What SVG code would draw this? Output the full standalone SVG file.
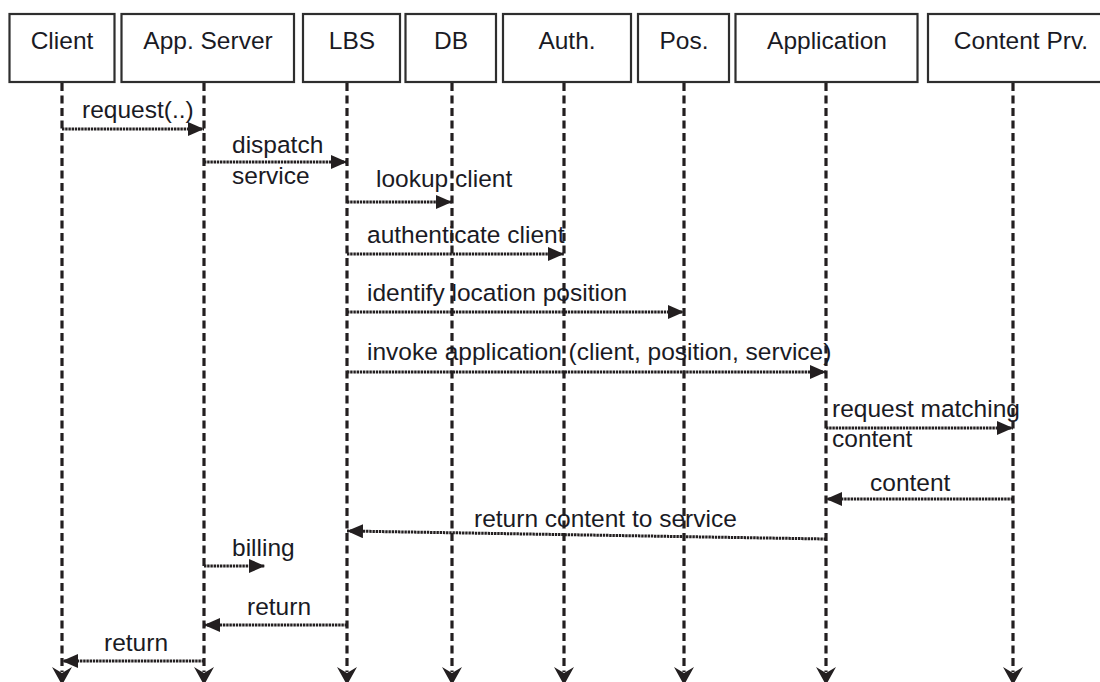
<svg xmlns="http://www.w3.org/2000/svg" width="1100" height="682" viewBox="0 0 1100 682">
  <style>
    .box { fill: #ffffff; stroke: #2e2e2e; stroke-width: 2.2; }
    .label { font-family: "Liberation Sans", Arial, sans-serif; font-size: 24.5px; fill: #1a1a24; }
    .head { text-anchor: middle; }
    .life { stroke: #231f20; stroke-width: 3.2; stroke-dasharray: 8 4.5; fill: none; }
    .msg { stroke: #231f20; stroke-width: 3; stroke-dasharray: 2.4 0.8; fill: none; marker-end: url(#arrow); }
    .end { fill: #231f20; }
  </style>
  <defs>
    <marker id="arrow" viewBox="0 0 16 14" refX="16" refY="7" markerWidth="16" markerHeight="14" markerUnits="userSpaceOnUse" orient="auto">
      <path d="M0,0 L16,7 L0,14 Z" fill="#231f20"/>
    </marker>
    <path id="tail" d="M-10,667 L0,673 L10,667 L0,685 Z"/>
  </defs>
  <rect width="1100" height="682" fill="#ffffff"/>

  <!-- participants -->
  <g id="client">
    <rect class="box" x="9.5" y="14" width="105" height="68"/>
    <text class="label head" x="62" y="49">Client</text>
  </g>
  <g id="app-server">
    <rect class="box" x="121.5" y="14" width="172.5" height="68"/>
    <text class="label head" x="208" y="49">App. Server</text>
  </g>
  <g id="lbs">
    <rect class="box" x="303" y="14" width="97" height="68"/>
    <text class="label head" x="352" y="49">LBS</text>
  </g>
  <g id="db">
    <rect class="box" x="405.5" y="14" width="90.5" height="68"/>
    <text class="label head" x="451" y="49">DB</text>
  </g>
  <g id="auth">
    <rect class="box" x="503" y="14" width="128" height="68"/>
    <text class="label head" x="567" y="49">Auth.</text>
  </g>
  <g id="pos">
    <rect class="box" x="638" y="14" width="91" height="68"/>
    <text class="label head" x="684" y="49">Pos.</text>
  </g>
  <g id="application">
    <rect class="box" x="735.5" y="14" width="182" height="68"/>
    <text class="label head" x="827" y="49">Application</text>
  </g>
  <g id="content-provider">
    <rect class="box" x="928" y="14" width="186" height="68"/>
    <text class="label head" x="1021" y="49">Content Prv.</text>
  </g>

  <!-- lifelines -->
  <g id="lifelines">
    <line class="life" x1="62" y1="83" x2="62" y2="672"/>
    <line class="life" x1="204" y1="83" x2="204" y2="672"/>
    <line class="life" x1="347" y1="83" x2="347" y2="672"/>
    <line class="life" x1="452" y1="83" x2="452" y2="672"/>
    <line class="life" x1="564" y1="83" x2="564" y2="672"/>
    <line class="life" x1="684" y1="83" x2="684" y2="672"/>
    <line class="life" x1="826" y1="83" x2="826" y2="672"/>
    <line class="life" x1="1013" y1="83" x2="1013" y2="672"/>
    <use href="#tail" class="end" x="62"/>
    <use href="#tail" class="end" x="204"/>
    <use href="#tail" class="end" x="347"/>
    <use href="#tail" class="end" x="452"/>
    <use href="#tail" class="end" x="564"/>
    <use href="#tail" class="end" x="684"/>
    <use href="#tail" class="end" x="826"/>
    <use href="#tail" class="end" x="1013"/>
  </g>

  <!-- messages -->
  <g id="connectors">
    <line class="msg" x1="62" y1="129" x2="204" y2="129"/>
    <line class="msg" x1="204" y1="162" x2="347" y2="162"/>
    <line class="msg" x1="347" y1="202" x2="452" y2="202"/>
    <line class="msg" x1="347" y1="254" x2="564" y2="254"/>
    <line class="msg" x1="347" y1="312" x2="684" y2="312"/>
    <line class="msg" x1="347" y1="372" x2="826" y2="372"/>
    <line class="msg" x1="826" y1="428" x2="1013" y2="428"/>
    <line class="msg" x1="1013" y1="499" x2="826" y2="499"/>
    <line class="msg" x1="826" y1="539" x2="347" y2="531"/>
    <line class="msg" x1="204" y1="566" x2="265" y2="566"/>
    <line class="msg" x1="347" y1="625" x2="204" y2="625"/>
    <line class="msg" x1="204" y1="661" x2="62" y2="661"/>
  </g>

  <!-- message labels -->
  <g id="message-labels">
    <text class="label" x="82" y="118">request(..)</text>
    <text class="label" x="232" y="153">dispatch</text>
    <text class="label" x="232" y="184">service</text>
    <text class="label" x="376" y="187">lookup client</text>
    <text class="label" x="367" y="243">authenticate client</text>
    <text class="label" x="367" y="301">identify location position</text>
    <text class="label" x="367" y="360">invoke application (client, position, service)</text>
    <text class="label" x="832" y="417">request matching</text>
    <text class="label" x="832" y="447">content</text>
    <text class="label" x="870" y="491">content</text>
    <text class="label" x="474" y="527">return content to service</text>
    <text class="label" x="232" y="556">billing</text>
    <text class="label" x="247" y="615">return</text>
    <text class="label" x="104" y="651">return</text>
  </g>
</svg>
